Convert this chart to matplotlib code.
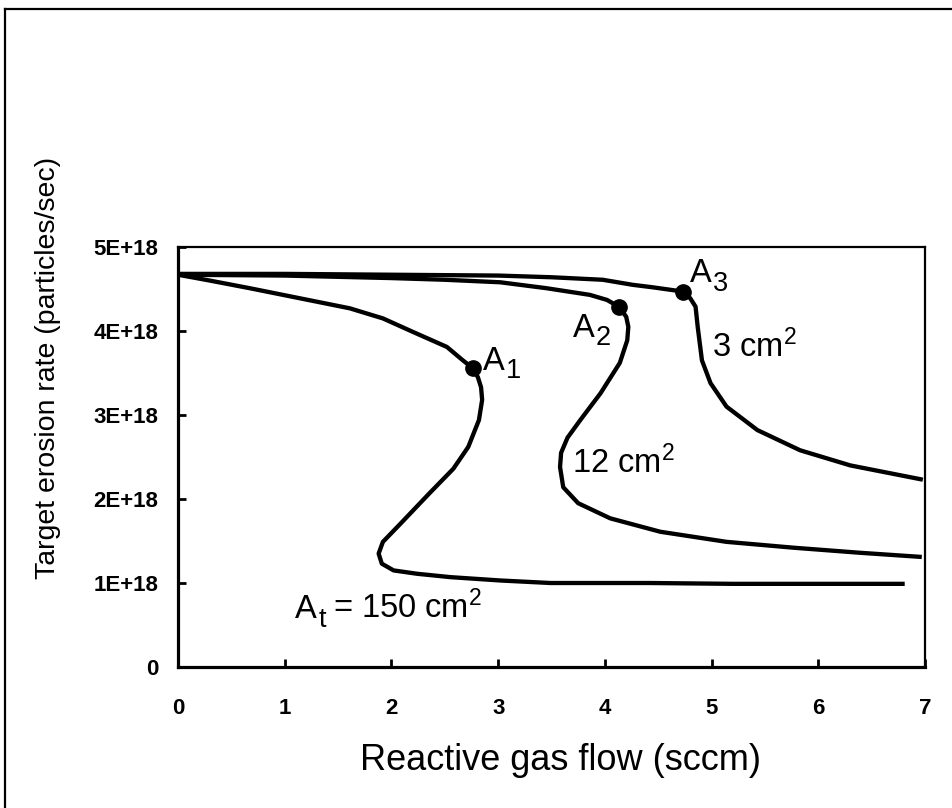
import matplotlib
matplotlib.use("Agg")
import matplotlib.pyplot as plt
from matplotlib import font_manager
from matplotlib.lines import Line2D

# Reactive gas flow (sccm) and target erosion rate (units of 1E+18 particles/sec)
flow_150 = [0.00, 0.30, 0.67, 1.14, 1.61, 1.92, 2.20, 2.52, 2.67, 2.76, 2.81, 2.84,
            2.85, 2.82, 2.72, 2.58, 2.35, 2.08, 1.92, 1.88, 1.91, 2.02, 2.24, 2.55,
            3.02, 3.49, 4.42, 5.20, 6.00, 6.81]
rate_150 = [4.67, 4.60, 4.51, 4.39, 4.27, 4.15, 3.99, 3.81, 3.65, 3.56, 3.45, 3.33,
            3.18, 2.94, 2.62, 2.36, 2.06, 1.70, 1.49, 1.35, 1.23, 1.15, 1.11, 1.07,
            1.03, 1.00, 1.00, 0.99, 0.99, 0.99]

flow_12 = [0.00, 1.00, 2.00, 2.50, 3.02, 3.45, 3.86, 4.02, 4.13, 4.20, 4.22, 4.21,
           4.14, 3.96, 3.77, 3.65, 3.59, 3.58, 3.61, 3.75, 4.05, 4.52, 5.14, 5.77,
           6.39, 6.97]
rate_12 = [4.67, 4.66, 4.63, 4.61, 4.58, 4.51, 4.43, 4.37, 4.29, 4.17, 4.05, 3.89,
           3.62, 3.26, 2.94, 2.73, 2.55, 2.38, 2.14, 1.95, 1.77, 1.61, 1.49, 1.42,
           1.36, 1.31]

flow_3 = [0.00, 1.00, 2.00, 3.00, 3.50, 3.98, 4.26, 4.45, 4.73, 4.80, 4.85, 4.87,
          4.91, 4.99, 5.14, 5.43, 5.83, 6.30, 6.98]
rate_3 = [4.68, 4.68, 4.67, 4.66, 4.64, 4.61, 4.55, 4.52, 4.47, 4.39, 4.29, 4.05,
          3.65, 3.38, 3.10, 2.82, 2.58, 2.40, 2.23]

# critical points A1, A2, A3 (index into each curve)
crit_idx_150 = 9
crit_idx_12 = 8
crit_idx_3 = 8

x_ticks = [0, 1, 2, 3, 4, 5, 6, 7]
x_tick_labels = ["0", "1", "2", "3", "4", "5", "6", "7"]
y_ticks = [0, 1, 2, 3, 4, 5]
y_tick_labels = ["0", "1E+18", "2E+18", "3E+18", "4E+18", "5E+18"]

names = {f.name for f in font_manager.fontManager.ttflist}
base_font = "Liberation Sans" if "Liberation Sans" in names else "DejaVu Sans"

plt.rcParams["font.family"] = [base_font, "DejaVu Sans"]
plt.rcParams["mathtext.fontset"] = "custom"
plt.rcParams["mathtext.rm"] = base_font
plt.rcParams["mathtext.it"] = base_font + ":italic"
plt.rcParams["mathtext.bf"] = base_font + ":bold"

fig = plt.figure(figsize=(9.53, 8.08), dpi=100)
ax = fig.add_axes([0.1868, 0.1745, 0.7838, 0.5198])

curve_kw = dict(color="black", lw=3.1, solid_capstyle="butt", solid_joinstyle="round")
ax.plot(flow_150, rate_150, **curve_kw)
ax.plot(flow_12, rate_12, **curve_kw)
ax.plot(flow_3, rate_3, **curve_kw)

for fx, fy, i in [(flow_150, rate_150, crit_idx_150),
                  (flow_12, rate_12, crit_idx_12),
                  (flow_3, rate_3, crit_idx_3)]:
    ax.plot([fx[i]], [fy[i]], "o", color="black", ms=11, zorder=5)

ax.set_xlim(0, 7)
ax.set_ylim(0, 5)
ax.set_xticks(x_ticks)
ax.set_xticklabels(x_tick_labels)
ax.set_yticks(y_ticks)
ax.set_yticklabels(y_tick_labels)
ax.tick_params(axis="both", direction="in", length=6, width=2, labelsize=16)
ax.tick_params(axis="x", pad=22)
ax.tick_params(axis="y", pad=14)
for lab in ax.get_xticklabels() + ax.get_yticklabels():
    lab.set_fontweight("bold")

for side in ("left", "bottom"):
    ax.spines[side].set_linewidth(2.3)
for side in ("top", "right"):
    ax.spines[side].set_linewidth(1.6)

fs = 23.5
sub_fs = 19.5


def label_sub(x, y, base, sub):
    ax.text(x, y, base, fontsize=fs, va="baseline", ha="left")
    ax.annotate(sub, xy=(x, y), xytext=(16.5, -6), textcoords="offset points",
                fontsize=sub_fs, va="baseline", ha="left")


label_sub(2.86, 3.54, "A", "1")
label_sub(3.70, 3.93, "A", "2")
label_sub(4.80, 4.58, "A", "3")
label_sub(1.10, 0.58, "A", "t")
ax.text(1.45, 0.58, r"= 150 cm$^{2}$", fontsize=fs, va="baseline", ha="left")
ax.text(5.00, 3.69, r"3 cm$^{2}$", fontsize=fs, va="baseline", ha="left")
ax.text(3.69, 2.31, r"12 cm$^{2}$", fontsize=fs, va="baseline", ha="left")

fig.text(561 / 953, 1 - 760 / 808, "Reactive gas flow (sccm)", fontsize=26,
         ha="center", va="center")
fig.text(48 / 953, 1 - 368 / 808, "Target erosion rate (particles/sec)",
         fontsize=20.5, rotation=90, ha="center", va="center")

# outer frame (top and left edges)
top_y = 1 - 9 / 808
left_x = 5 / 953
fig.add_artist(Line2D([left_x, 1.0], [top_y, top_y], color="black", lw=1.6,
                      transform=fig.transFigure))
fig.add_artist(Line2D([left_x, left_x], [0.0, top_y], color="black", lw=1.6,
                      transform=fig.transFigure))

fig.savefig("out.png", dpi=100)
